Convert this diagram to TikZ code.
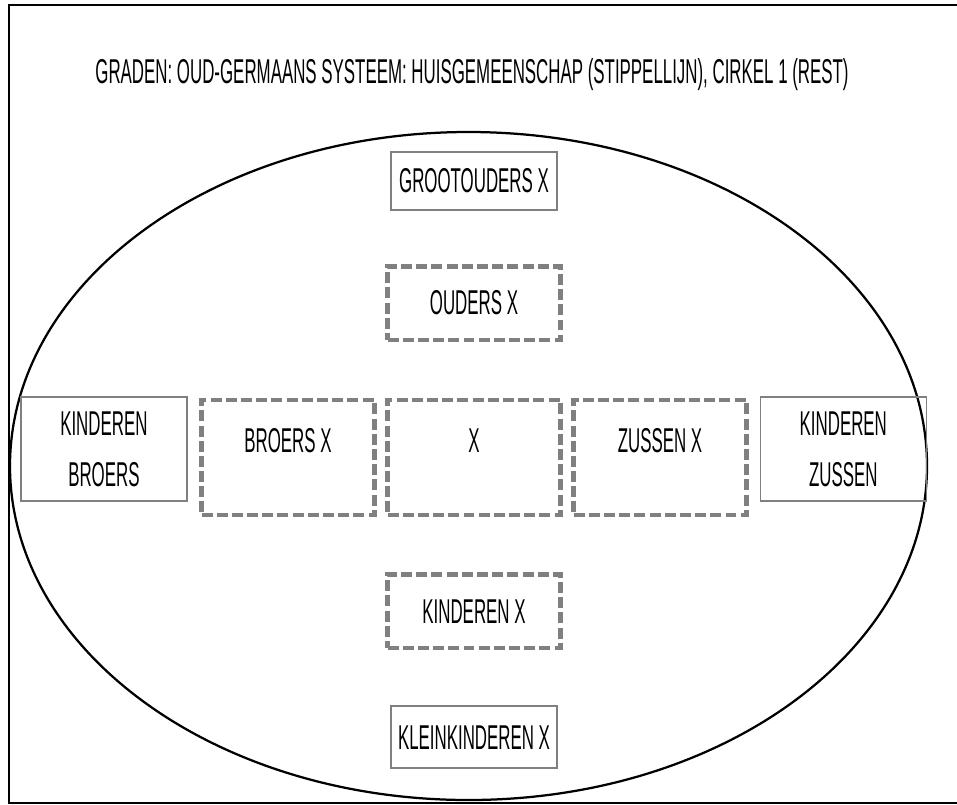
\documentclass[tikz,border=0pt]{standalone}
\usepackage{fontspec}
\setmainfont{Liberation Sans}[FakeStretch=0.49]
\usetikzlibrary{positioning}

\begin{document}
\begin{tikzpicture}[
    x=0.025cm, y=-0.025cm,
    node distance=4.65cm,
    on grid,
    every node/.style={
        font=\fontsize{24.5}{28}\selectfont,
        align=center,
        inner sep=0pt
    },
    solidbox/.style={
        draw=gray,
        line width=1pt,
        minimum width=4.15cm,
        minimum height=1.45cm
    },
    dashbox/.style={
        draw=gray,
        line width=3.3pt,
        dash pattern=on 7.8pt off 3pt,
        minimum width=4.32cm,
        minimum height=1.84cm
    },
    tallbox/.style={
        dashbox,
        minimum height=2.87cm,
        text height=0.58cm,
        text depth=0.85cm
    },
    sidebox/.style={
        solidbox,
        minimum width=4.15cm,
        minimum height=2.6cm
    }
]
\useasboundingbox (0,0) rectangle (957,804);

% frame and title
\draw[line width=0.9pt] (957,5) -- (9,5) -- (9,803) -- (957,803);
\node (title) at (472,75) {GRADEN: OUD-GERMAANS SYSTEEM: HUISGEMEENSCHAP (STIPPELLIJN), CIRKEL 1 (REST)};

% circle 1
\coordinate (ctr) at (468.5,466);
\draw[line width=1.6pt] (ctr) ellipse [x radius=458.5, y radius=334];

% middle row
\node[tallbox] (x) at (474,457.5) {X};
\node[tallbox, left=of x] (bro) {BROERS X};
\node[tallbox, right=of x] (zus) {ZUSSEN X};
\node[sidebox, left=4.6cm of bro, yshift=0.21cm] (kb) {KINDEREN\\[0.28cm]BROERS};
\node[sidebox, right=4.58cm of zus, yshift=0.21cm] (kz) {KINDEREN\\[0.28cm]ZUSSEN};

% up and down
\node[dashbox, above=3.86cm of x] (oud) {OUDERS X};
\node[solidbox, above=3.05cm of oud] (gro) {GROOTOUDERS X};
\node[dashbox, below=3.84cm of x] (kin) {KINDEREN X};
\node[solidbox, below=3.15cm of kin, minimum height=1.55cm] (klein) {KLEINKINDEREN X};

\end{tikzpicture}
\end{document}
